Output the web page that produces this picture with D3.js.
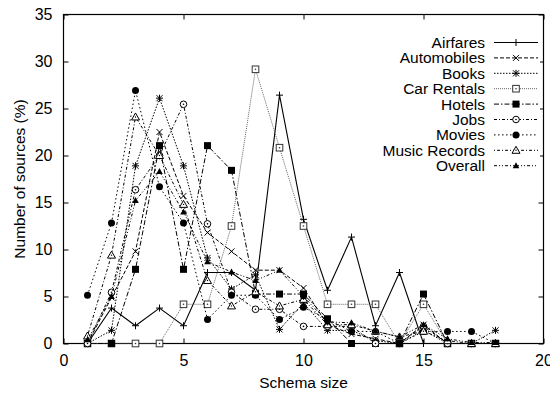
<!DOCTYPE html>
<html>
<head>
<meta charset="utf-8">
<script src="https://cdn.jsdelivr.net/npm/d3@7"></script>
<style>
  body { margin: 0; background: #fff; }
  svg { display: block; font-family: "Liberation Sans", Arial, Helvetica, sans-serif; }
</style>
</head>
<body>
<svg id="chart" width="550" height="394"></svg>
<script>
// Schema sizes on the x axis
const schemaSizes = [1, 2, 3, 4, 5, 6, 7, 8, 9, 10, 11, 12, 13, 14, 15, 16, 17, 18];

// Share of sources (%) per schema size, one array per domain
const airfares    = [0, 3.77, 1.89, 3.77, 1.89, 7.55, 7.55, 5.66, 26.42, 13.21, 5.66, 11.32, 1.89, 7.55, 0, 0, 0, 0];
const automobiles = [0, 4.9, 9.8, 22.5, 15.7, 11.8, 9.8, 7.8, 7.8, 5.9, 2.0, 1.0, 0.5, 0, 2.0, 0, 0, 0];
const books       = [0, 1.4, 18.9, 26.1, 18.9, 9.1, 5.8, 7.3, 1.5, 4.3, 1.4, 1.4, 0.3, 0, 1.4, 0, 0, 1.4];
const carRentals  = [0, 0, 0, 0, 4.17, 4.17, 12.5, 29.17, 20.83, 12.5, 4.17, 4.17, 4.17, 0, 4.17, 0, 0, 0];
const hotels      = [0, 0, 7.89, 21.05, 7.89, 21.05, 18.42, 5.26, 5.26, 5.26, 2.63, 0, 0, 0, 5.26, 0, 0, 0];
const jobs        = [0, 5.45, 16.36, 20.0, 25.45, 12.73, 5.45, 3.64, 3.64, 1.82, 1.82, 1.82, 0, 0, 1.82, 0, 0, 0];
const movies      = [5.13, 12.82, 26.92, 16.67, 12.82, 2.56, 5.13, 5.13, 2.56, 3.85, 2.56, 1.28, 1.28, 0, 1.28, 1.28, 1.28, 0];
const musicRecords= [0.8, 9.4, 24.1, 20.0, 14.8, 6.7, 4.0, 5.5, 4.0, 4.7, 2.0, 2.0, 1.3, 0.7, 1.3, 0.3, 0, 0];
const overall     = [0.4, 5.0, 15.2, 18.3, 14.0, 8.7, 7.6, 6.7, 7.8, 5.0, 2.3, 2.2, 1.3, 0.7, 2.0, 0.5, 0.1, 0.1];

const seriesNames = ["Airfares", "Automobiles", "Books", "Car Rentals", "Hotels", "Jobs", "Movies", "Music Records", "Overall"];
const seriesValues = [airfares, automobiles, books, carRentals, hotels, jobs, movies, musicRecords, overall];

const xTicks = [0, 5, 10, 15, 20];
const yTicks = [0, 5, 10, 15, 20, 25, 30, 35];

// Line dash pattern and point symbol for each series (gnuplot-like monochrome styles)
const styles = [
  { dash: null,            marker: "plus",       stroke: "#000", width: 1.1 },
  { dash: "4,2",           marker: "cross",      stroke: "#000", width: 1 },
  { dash: "1.5,1.5",       marker: "star",       stroke: "#000", width: 1 },
  { dash: "1,1",           marker: "boxOpen",    stroke: "#555", width: 0.9 },
  { dash: "5,2,1.5,2",     marker: "boxFilled",  stroke: "#000", width: 1 },
  { dash: "3,2,1,2",       marker: "circleOpen", stroke: "#000", width: 1 },
  { dash: "1.5,2.5",       marker: "circleFilled", stroke: "#000", width: 1 },
  { dash: "1,2,3,2",       marker: "triOpen",    stroke: "#000", width: 1 },
  { dash: "3,2,1,2,1,2",   marker: "triFilled",  stroke: "#000", width: 1 }
];

const svg = d3.select("#chart");
const fontSize = 15.5;
const tickFontSize = 16;

const x = d3.scaleLinear().domain([0, 20]).range([63.5, 543.5]);
const y = d3.scaleLinear().domain([0, 35]).range([343.5, 14.5]);

// Axes with inward ticks on all four sides
const tickLen = 5;
svg.append("g")
  .attr("transform", `translate(0,${y(0)})`)
  .call(d3.axisBottom(x).tickValues(xTicks).tickSize(-tickLen).tickPadding(tickLen + 6))
  .call(g => g.select(".domain").remove())
  .call(g => g.selectAll("text").attr("font-size", tickFontSize).attr("font-family", null).attr("fill", "#000"));

svg.append("g")
  .attr("transform", `translate(${x(0)},0)`)
  .call(d3.axisLeft(y).tickValues(yTicks).tickSize(-tickLen).tickPadding(tickLen + 6))
  .call(g => g.select(".domain").remove())
  .call(g => g.selectAll("text").attr("font-size", tickFontSize).attr("font-family", null).attr("fill", "#000"));

svg.append("g")
  .attr("transform", `translate(0,${y(35)})`)
  .call(d3.axisTop(x).tickValues(xTicks).tickSize(-tickLen).tickFormat(""))
  .call(g => g.select(".domain").remove());

svg.append("g")
  .attr("transform", `translate(${x(20)},0)`)
  .call(d3.axisRight(y).tickValues(yTicks).tickSize(-tickLen).tickFormat(""))
  .call(g => g.select(".domain").remove());

// Plot border
svg.append("rect")
  .attr("x", x(0)).attr("y", y(35))
  .attr("width", x(20) - x(0)).attr("height", y(0) - y(35))
  .attr("fill", "none").attr("stroke", "#000").attr("stroke-width", 1.2);

// Axis titles
svg.append("text")
  .attr("x", (x(0) + x(20)) / 2).attr("y", 388)
  .attr("text-anchor", "middle").attr("font-size", fontSize)
  .text("Schema size");

svg.append("text")
  .attr("transform", `translate(25,${(y(0) + y(35)) / 2}) rotate(-90)`)
  .attr("text-anchor", "middle").attr("font-size", fontSize)
  .text("Number of sources (%)");

// Point symbols
function drawMarker(g, type, cx, cy, color) {
  const s = 3.5;
  const t = 4;
  switch (type) {
    case "plus":
      g.append("path").attr("d", `M${cx - s},${cy}h${2 * s}M${cx},${cy - s}v${2 * s}`)
        .attr("stroke", color).attr("stroke-width", 1).attr("fill", "none");
      break;
    case "cross":
      g.append("path").attr("d", `M${cx - 3},${cy - 3}l6,6M${cx - 3},${cy + 3}l6,-6`)
        .attr("stroke", color).attr("stroke-width", 1).attr("fill", "none");
      break;
    case "star":
      g.append("path").attr("d", `M${cx - 3},${cy - 3}l6,6M${cx - 3},${cy + 3}l6,-6M${cx - s},${cy}h${2 * s}M${cx},${cy - s}v${2 * s}`)
        .attr("stroke", color).attr("stroke-width", 1).attr("fill", "none");
      break;
    case "boxOpen":
      g.append("rect").attr("x", cx - 3.3).attr("y", cy - 3.3).attr("width", 6.6).attr("height", 6.6)
        .attr("fill", "#fff").attr("stroke", "#333").attr("stroke-width", 1);
      g.append("circle").attr("cx", cx).attr("cy", cy).attr("r", 0.8).attr("fill", "#333");
      break;
    case "boxFilled":
      g.append("rect").attr("x", cx - 3.5).attr("y", cy - 3.5).attr("width", 7).attr("height", 7)
        .attr("fill", color);
      break;
    case "circleOpen":
      g.append("circle").attr("cx", cx).attr("cy", cy).attr("r", 3.3)
        .attr("fill", "#fff").attr("stroke", color).attr("stroke-width", 1);
      g.append("circle").attr("cx", cx).attr("cy", cy).attr("r", 0.8).attr("fill", color);
      break;
    case "circleFilled":
      g.append("circle").attr("cx", cx).attr("cy", cy).attr("r", 3.5).attr("fill", color);
      break;
    case "triOpen":
      g.append("path").attr("d", `M${cx},${cy - t}L${cx + t},${cy + 3}L${cx - t},${cy + 3}Z`)
        .attr("fill", "#fff").attr("stroke", color).attr("stroke-width", 1);
      g.append("circle").attr("cx", cx).attr("cy", cy).attr("r", 0.7).attr("fill", color);
      break;
    case "triFilled":
      g.append("path").attr("d", `M${cx},${cy - 3.5}L${cx + 3.3},${cy + 2.5}L${cx - 3.3},${cy + 2.5}Z`)
        .attr("fill", color);
      break;
  }
}

const line = d3.line().x(d => x(d[0])).y(d => y(d[1]));

const plot = svg.append("g");
seriesValues.forEach((vals, i) => {
  const st = styles[i];
  const pts = schemaSizes.map((s, k) => [s, vals[k]]);
  const g = plot.append("g").attr("class", "series");
  g.append("path")
    .attr("d", line(pts))
    .attr("fill", "none")
    .attr("stroke", st.stroke)
    .attr("stroke-width", st.width)
    .attr("stroke-dasharray", st.dash);
  pts.forEach(p => drawMarker(g, st.marker, x(p[0]), y(p[1]), "#000"));
});

// Legend
const legend = svg.append("g");
const legTop = 42.5, legStep = 15.4, textRight = 485, sampleL = 494, sampleR = 538;
seriesNames.forEach((name, i) => {
  const cy = legTop + i * legStep;
  legend.append("rect")
    .attr("x", 300).attr("y", cy - 7.5).attr("width", 240).attr("height", 15).attr("fill", "#fff");
});
seriesNames.forEach((name, i) => {
  const st = styles[i];
  const cy = legTop + i * legStep;
  legend.append("text")
    .attr("x", textRight).attr("y", cy).attr("dy", "0.36em")
    .attr("text-anchor", "end").attr("font-size", fontSize)
    .text(name);
  legend.append("line")
    .attr("x1", sampleL).attr("x2", sampleR).attr("y1", cy).attr("y2", cy)
    .attr("stroke", st.stroke).attr("stroke-width", st.width)
    .attr("stroke-dasharray", st.dash);
  drawMarker(legend, st.marker, (sampleL + sampleR) / 2, cy, "#000");
});
</script>
</body>
</html>
